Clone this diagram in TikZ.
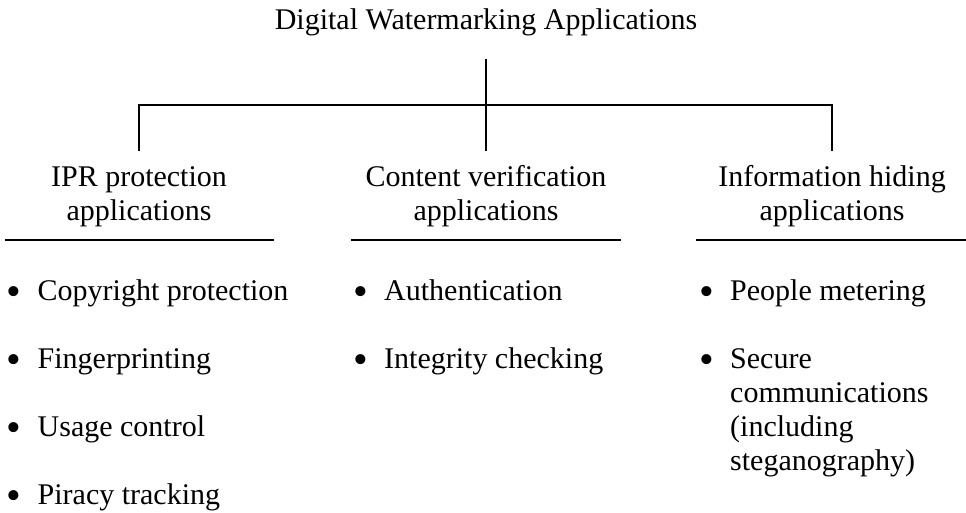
\documentclass[tikz,border=0pt]{standalone}
\usepackage{fontspec}
\setmainfont{Liberation Serif}

% bullet mark with a fixed hanging width
\newcommand{\bulmark}{\makebox[30pt][l]{\hspace{-1pt}\raisebox{-5.5pt}{\scalebox{1.4}{\textbullet}}}}
\newcommand{\hangskip}{\hspace*{30pt}}
% fixed line pitch, no extra skip between tall lines
\newcommand{\tightlines}{\lineskiplimit=-100pt\relax\lineskip=0pt\relax}

\tikzset{
  txt/.style={font=\fontsize{30}{34}\selectfont\tightlines,
              inner sep=0pt, anchor=base},
  head/.style={txt, align=center},
  itemtext/.style={txt, anchor=base west, align=left},
  conn/.style={line width=2pt, line join=miter, line cap=rect},
  rule/.style={line width=2pt}
}

\begin{document}
\begin{tikzpicture}[x=1pt, y=-1pt]
  \useasboundingbox (0,0) rectangle (966,513);

  % title and tree connectors
  \node[txt] (title) at (486,30) {Digital Watermarking Applications};
  \coordinate (hub) at (486,60);
  \coordinate (j1) at (139,105);
  \coordinate (j3) at (832,105);
  \coordinate (d1) at (139,150);
  \coordinate (d2) at (486,150);
  \coordinate (d3) at (832,150);
  \draw[conn] (hub) -- (d2);
  \draw[conn] (d1) -- (j1) -- (j3) -- (d3);

  % category headings (base = last line)
  \node[head] (h1) at (139,221) {IPR protection\\applications};
  \node[head] (h2) at (486,221) {Content verification\\applications};
  \node[head] (h3) at (832,221) {Information hiding\\applications};

  % underlines below the headings
  \draw[rule] (5,240) -- (274,240);
  \draw[rule] (351,240) -- (621,240);
  \draw[rule] (696,240) -- (966,240);

  % IPR protection items
  \node[itemtext] (a1) at (7.5,300) {\bulmark Copyright protection};
  \node[itemtext] (a2) at (7.5,368) {\bulmark Fingerprinting};
  \node[itemtext] (a3) at (7.5,436) {\bulmark Usage control};
  \node[itemtext] (a4) at (7.5,504) {\bulmark Piracy tracking};

  % content verification items
  \node[itemtext] (b1) at (354,300) {\bulmark Authentication};
  \node[itemtext] (b2) at (354,368) {\bulmark Integrity checking};

  % information hiding items
  \node[itemtext] (c1) at (700,300) {\bulmark People metering};
  \node[itemtext] (c2) at (700,470) {\bulmark Secure\\\hangskip communications\\\hangskip (including\\\hangskip steganography)};
\end{tikzpicture}
\end{document}
